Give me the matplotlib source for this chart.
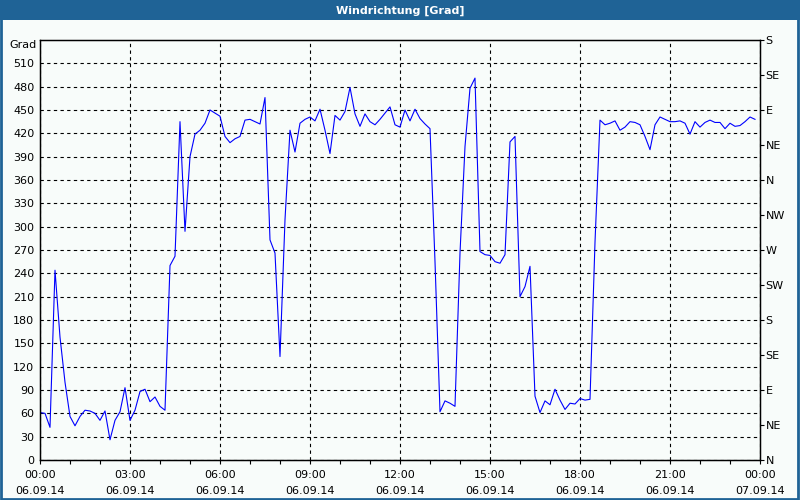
import numpy as np
import matplotlib
matplotlib.use("Agg")
from matplotlib import pyplot as plt
from matplotlib.patches import Rectangle

# wind direction in degrees, one value every 10 minutes from 06.09.14 00:00
direction = [
    61, 60, 42, 244, 158, 100, 56, 44, 56, 64, 63, 60,
    51, 63, 26, 51, 62, 93, 51, 64, 88, 91, 75, 81,
    69, 64, 250, 262, 435, 294, 390, 419, 424, 433, 450, 446,
    442, 416, 408, 413, 416, 437, 438, 435, 432, 466, 283, 266,
    133, 309, 424, 396, 433, 438, 441, 436, 451, 424, 394, 443,
    437, 448, 479, 445, 429, 445, 435, 431, 438, 446, 454, 431,
    428, 450, 436, 451, 439, 432, 426, 255, 62, 76, 73, 69,
    266, 403, 478, 491, 268, 264, 263, 255, 253, 264, 409, 416,
    210, 223, 249, 82, 61, 76, 71, 91, 77, 65, 73, 72,
    79, 77, 78, 280, 437, 431, 433, 436, 424, 428, 435, 434,
    431, 416, 399, 431, 441, 438, 435, 435, 436, 433, 419, 435,
    428, 434, 437, 434, 434, 426, 433, 429, 430, 435, 441, 438,
]
step_minutes = 10

x_ticks = [0, 3, 6, 9, 12, 15, 18, 21, 24]
x_labels = ["00:00\n06.09.14", "03:00\n06.09.14", "06:00\n06.09.14",
            "09:00\n06.09.14", "12:00\n06.09.14", "15:00\n06.09.14",
            "18:00\n06.09.14", "21:00\n06.09.14", "00:00\n07.09.14"]
y_ticks = list(range(0, 511, 30))
compass = ["N", "NE", "E", "SE", "S", "SW", "W", "NW",
           "N", "NE", "E", "SE", "S"]
compass_deg = list(range(0, 541, 45))

hours = np.arange(len(direction)) * step_minutes / 60

bg = "#f8fcfa"
frame = "#1f6396"

fig = plt.figure(figsize=(8, 5), dpi=100, facecolor=bg)

# title bar and window frame
fig.add_artist(Rectangle((0, 0.96), 1, 0.04, transform=fig.transFigure,
                         facecolor=frame, edgecolor="none"))
fig.add_artist(Rectangle((0.001, 0.002), 0.997, 0.996, transform=fig.transFigure,
                         facecolor="none", edgecolor=frame, linewidth=2))
fig.text(0.5, 0.979, "Windrichtung [Grad]", color="white", fontsize=8,
         fontweight="semibold", ha="center", va="center")

ax = fig.add_axes([0.05, 0.08, 0.90, 0.84])
ax.set_facecolor(bg)
ax.plot(hours, direction, color="#0000ff", linewidth=0.8)

ax.set_xlim(0, 24)
ax.set_ylim(0, 540)
ax.set_xticks(x_ticks)
ax.set_xticklabels(x_labels, fontsize=8, linespacing=1.75)
ax.set_xticks(range(0, 25), minor=True)
ax.set_yticks(y_ticks)
ax.set_yticklabels([str(v) for v in y_ticks], fontsize=8)
ax.tick_params(axis="x", which="both", length=3, width=0.8, pad=4)
ax.tick_params(axis="y", length=0, pad=4)

ax.grid(True, color="black", linestyle=(0, (3, 3)), linewidth=0.8)
for s in ax.spines.values():
    s.set_linewidth(1.0)
    s.set_color("black")

ax.text(-0.004, 1.0, "Grad", transform=ax.transAxes, fontsize=8,
        ha="right", va="top")

ax2 = ax.twinx()
ax2.set_ylim(0, 540)
ax2.set_yticks(compass_deg)
ax2.set_yticklabels(compass, fontsize=8)
ax2.tick_params(axis="y", length=3, width=0.8, pad=1)

fig.savefig("out.png", dpi=100, facecolor=bg)
